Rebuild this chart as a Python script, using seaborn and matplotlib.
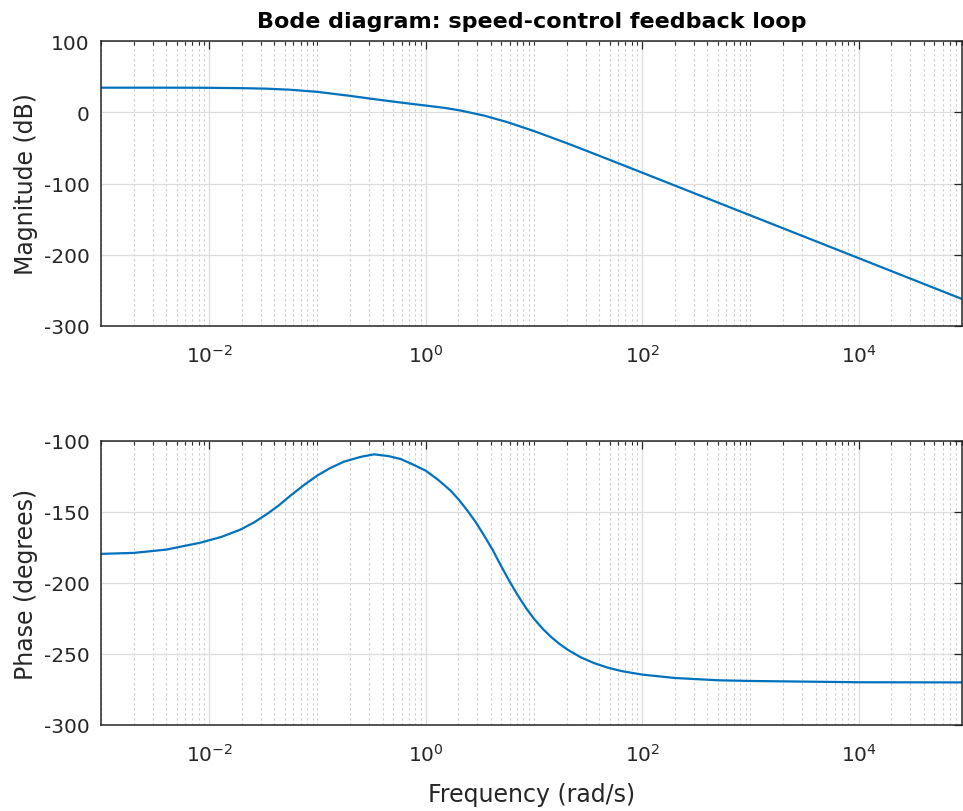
import numpy as np
import pandas as pd
import matplotlib
matplotlib.use('Agg')
import matplotlib.pyplot as plt
import matplotlib.ticker as mticker
import seaborn as sns

# values
freq_mag = [1e-3, 3e-3, 8.3e-3, 2e-2, 3.4e-2, 5.6e-2, 0.1, 0.2, 0.33, 0.59, 1, 1.5, 2.1, 3.5, 5.65,
            10, 20.5, 30, 50, 100, 1e3, 1e4, 9e4]
mag_db = [34.5, 34.5, 34.4, 33.8, 33.1, 31.6, 28.6, 23.0, 18.5, 13.6, 9.4, 6.1, 2.4, -4.9, -13.8,
          -26.4, -43.9, -53.6, -66.8, -84.8, -144.8, -204.8, -262.1]

freq_ph = [1e-3, 2e-3, 4e-3, 8.3e-3, 1.3e-2, 1.94e-2, 2.6e-2, 3.42e-2, 4.4e-2, 5.62e-2, 7.5e-2,
           9.93e-2, 0.13, 0.175, 0.25, 0.333, 0.45, 0.587, 0.75, 1, 1.3, 1.7, 2.03, 2.43, 2.9,
           3.47, 4.15, 4.95, 5.9, 7.06, 8.45, 10.1, 12.1, 14.4, 17.2, 20.5, 27, 36.2, 48, 64,
           100, 200, 500, 1e3, 1e4, 9e4]
phase_deg = [-179.5, -178.8, -176.5, -171.6, -167.5, -162.4, -157.3, -151.4, -145.3, -138.5, -131.0,
             -124.4, -119.2, -114.6, -111.2, -109.4, -110.6, -112.7, -116.3, -120.9, -127.3, -135.0,
             -141.5, -149.1, -157.2, -166.7, -176.7, -187.8, -198.4, -208.5, -217.7, -225.6, -232.4,
             -238.0, -242.9, -247.0, -252.3, -256.5, -259.6, -262.0, -264.5, -266.9, -268.5, -269.0,
             -269.9, -270.0]

mag_ticks = [-300, -200, -100, 0, 100]
phase_ticks = [-300, -250, -200, -150, -100]
freq_major = [1e-2, 1e0, 1e2, 1e4]

sns.set_theme(style='white')
plt.rcParams['font.family'] = ['DejaVu Sans']
plt.rcParams['mathtext.default'] = 'regular'
plt.rcParams['axes.unicode_minus'] = False

txt = '#262626'
line_col = '#0072BD'

fig = plt.figure(figsize=(9.63, 8.12), dpi=100)
ax1 = fig.add_axes([101/963, 1 - 327/812, 861/963, 285/812])
ax2 = fig.add_axes([101/963, 1 - 726/812, 861/963, 284/812])

df_mag = pd.DataFrame({'freq': freq_mag, 'mag': mag_db})
df_ph = pd.DataFrame({'freq': freq_ph, 'phase': phase_deg})

sns.lineplot(data=df_mag, x='freq', y='mag', ax=ax1, color=line_col, linewidth=1.6)
sns.lineplot(data=df_ph, x='freq', y='phase', ax=ax2, color=line_col, linewidth=1.6)

minor_locs = [m * 10.0**k for k in range(-3, 5) for m in range(1, 10)]
minor_locs = [v for v in minor_locs if v not in freq_major and v <= 9e4]

for ax, yt in [(ax1, mag_ticks), (ax2, phase_ticks)]:
    ax.set_xscale('log')
    ax.set_xlim(1e-3, 9e4)
    ax.set_ylim(yt[0], yt[-1])
    ax.set_yticks(yt)
    ax.xaxis.set_major_locator(mticker.FixedLocator(freq_major))
    ax.xaxis.set_major_formatter(mticker.LogFormatterSciNotation())
    ax.xaxis.set_minor_locator(mticker.FixedLocator(minor_locs))
    ax.xaxis.set_minor_formatter(mticker.NullFormatter())
    ax.grid(True, which='major', color='#dcdcdc', linewidth=0.9, linestyle='-')
    ax.grid(True, which='minor', axis='x', color='#cccccc', linewidth=0.8, linestyle=(0, (2.0, 2.5)))
    ax.set_axisbelow(True)
    ax.tick_params(which='both', direction='in', top=True, right=True, colors=txt, labelcolor=txt)
    ax.tick_params(which='major', length=6, width=0.9, labelsize=14.5)
    ax.tick_params(which='minor', length=3, width=0.8)
    ax.tick_params(axis='y', pad=8)
    ax.tick_params(axis='x', pad=13)
    for s in ax.spines.values():
        s.set_color(txt)
        s.set_linewidth(1.1)
    ax.set_xlabel('')

ax1.set_ylabel('Magnitude (dB)', fontsize=17, color=txt, labelpad=4)
ax2.set_ylabel('Phase (degrees)', fontsize=17, color=txt, labelpad=4)
ax2.set_xlabel('Frequency (rad/s)', fontsize=17, color=txt, labelpad=12)
ax1.set_title('Bode diagram: speed-control feedback loop', fontsize=16, fontweight='bold',
              color='#000000', pad=10)

fig.savefig('out.png', dpi=100)
